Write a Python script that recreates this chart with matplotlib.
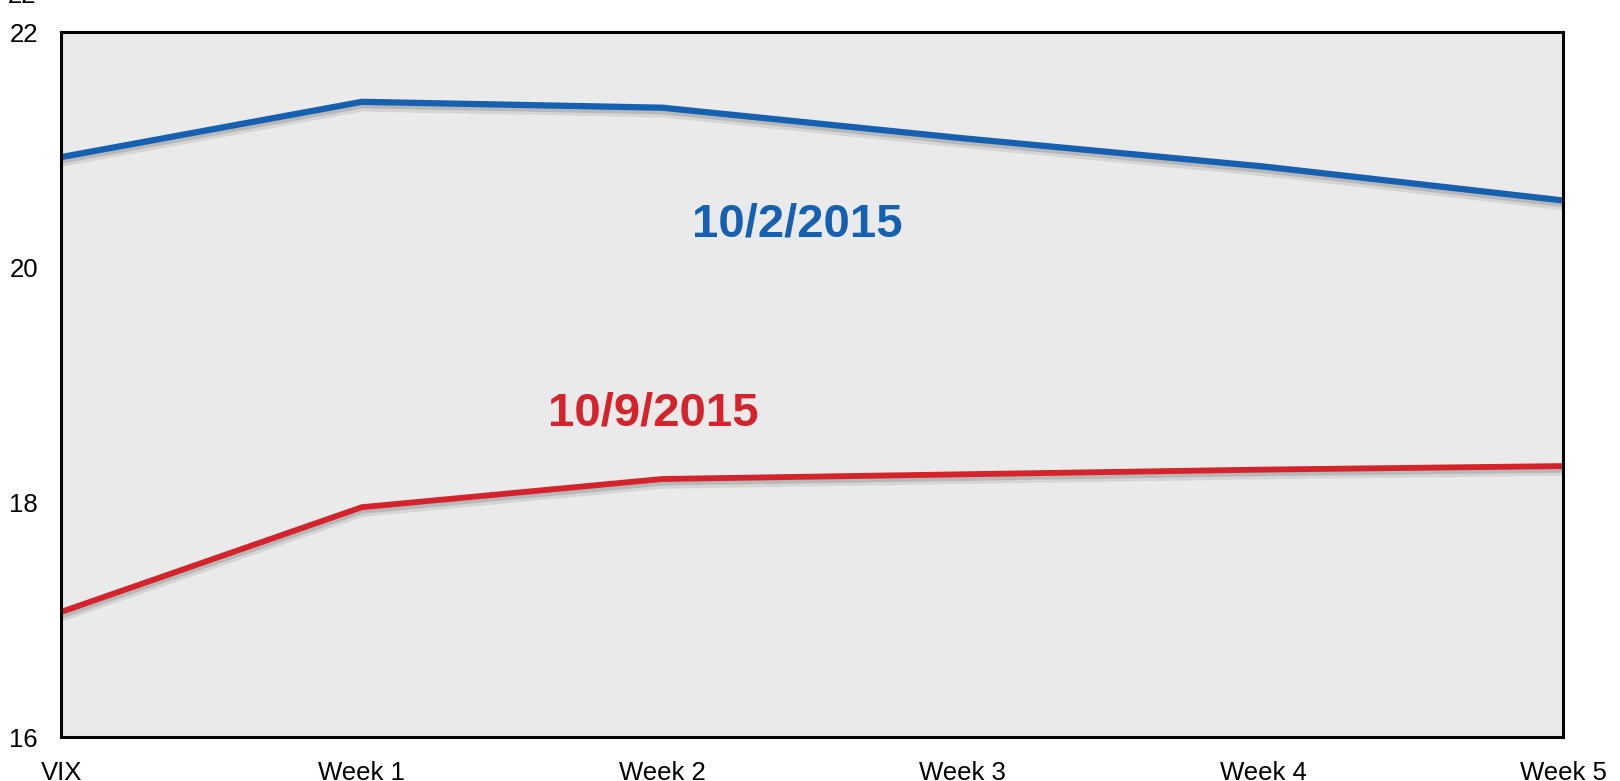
import matplotlib
matplotlib.use("Agg")
import matplotlib.pyplot as plt
import matplotlib.patheffects as pe

plt.rcParams['font.family'] = ['Liberation Sans', 'DejaVu Sans']

# data
categories = ['VIX', 'Week 1', 'Week 2', 'Week 3', 'Week 4', 'Week 5']
oct2 = [20.94, 21.41, 21.36, 21.10, 20.86, 20.57]
oct9 = [17.07, 17.96, 18.20, 18.24, 18.28, 18.31]
yticks = [16, 18, 20, 22]

blue = '#1560b0'
red = '#d4232b'

fig = plt.figure(figsize=(16.2, 7.81), dpi=100)
ax = fig.add_axes([0.03796, 0.0557, 0.92716, 0.90269])
ax.set_facecolor('#eaeaea')

shadow = [pe.SimpleLineShadow(offset=(0, -3), shadow_color='#777777', alpha=0.18, linewidth=8),
          pe.SimpleLineShadow(offset=(0, -2), shadow_color='#777777', alpha=0.3, linewidth=5.5),
          pe.Normal()]

x = list(range(len(categories)))
ax.plot(x, oct2, color=blue, linewidth=4.5, path_effects=shadow, solid_joinstyle='round')
ax.plot(x, oct9, color=red, linewidth=4.2, path_effects=shadow, solid_joinstyle='round')

ax.text(2.45, 20.37, '10/2/2015', color=blue, fontsize=34, fontweight='bold', ha='center', va='center')
ax.text(1.97, 18.76, '10/9/2015', color=red, fontsize=34, fontweight='bold', ha='center', va='center')

ax.set_xlim(0, 5)
ax.set_ylim(16, 22)
ax.set_xticks(x)
ax.set_xticklabels(categories)
ax.set_yticks(yticks)
ax.tick_params(axis='both', length=0, labelsize=18.5, pad=17)
for s in ax.spines.values():
    s.set_linewidth(2.2)
    s.set_color('black')

# cut-off bit of a label at the very top edge
fig.text(0.0049, 1 - 3 / 781, '22', fontsize=18.5, va='baseline', ha='left')

fig.savefig('out.png', dpi=100)
